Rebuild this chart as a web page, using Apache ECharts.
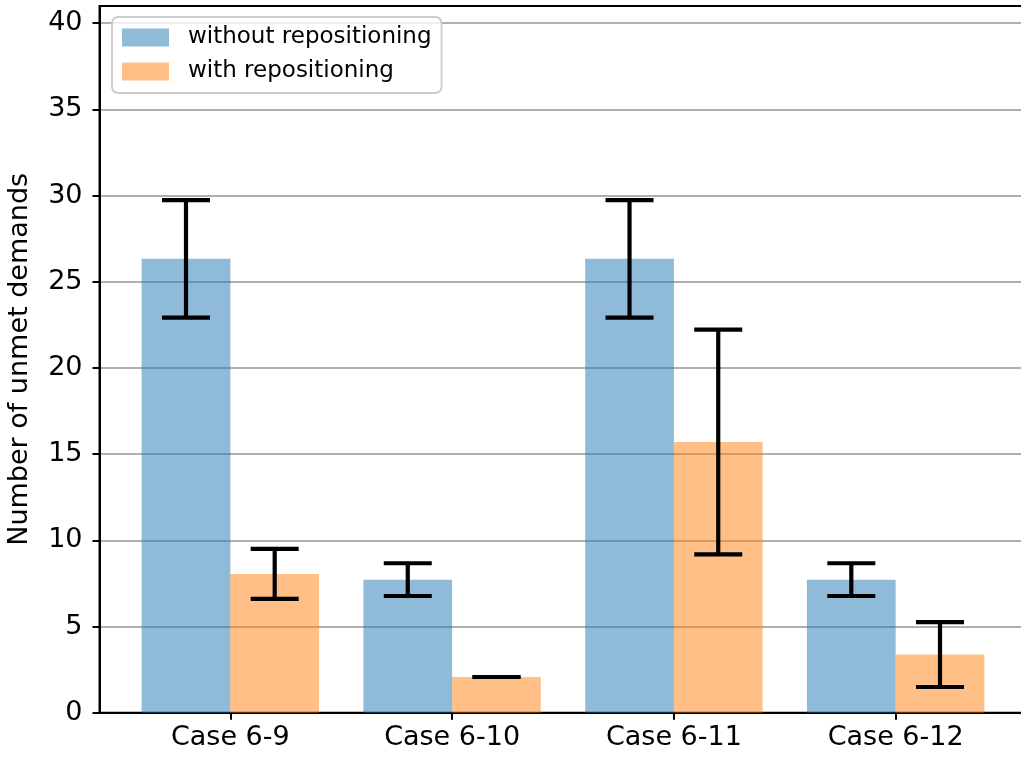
<!DOCTYPE html>
<html>
<head>
<meta charset="utf-8">
<script src="https://cdn.jsdelivr.net/npm/echarts@6/dist/echarts.min.js"></script>
<style>
  html, body { margin: 0; padding: 0; background: #ffffff; overflow: hidden; }
  /* the plot frame runs past the right edge of the window */
  #chart { width: 1040px; height: 757px; }
</style>
</head>
<body>
<div id="chart"></div>
<script>
// Unmet demands per case, mean and error (half-width of the error bar)
const categories = ['Case 6-9', 'Case 6-10', 'Case 6-11', 'Case 6-12'];
const seriesNames = ['without repositioning', 'with repositioning'];
const withoutMean = [26.33, 7.72, 26.33, 7.72];
const withoutErr = [3.41, 0.95, 3.41, 0.95];
const withMean = [8.05, 2.07, 15.70, 3.37];
const withErr = [1.45, 0.0, 6.52, 1.88];
const yTicks = [0, 5, 10, 15, 20, 25, 30, 35, 40];

const FONT = 'DejaVu Sans';
const BAR_W = 0.4;           // bar width in category units
const blue = 'rgba(31,119,180,0.5)';
const orange = 'rgba(255,127,14,0.5)';

function barSeries(name, means, offset, color) {
  return {
    name: name,
    type: 'custom',
    z: 2,
    itemStyle: { color: color },
    data: means.map((m, i) => [i, m]),
    encode: { x: 0, y: 1 },
    renderItem: function (params, api) {
      const i = api.value(0);
      const v = api.value(1);
      const p0 = api.coord([i + offset - BAR_W / 2, v]);
      const p1 = api.coord([i + offset + BAR_W / 2, 0]);
      return {
        type: 'rect',
        shape: { x: p0[0], y: p0[1], width: p1[0] - p0[0], height: p1[1] - p0[1] },
        style: { fill: color }
      };
    }
  };
}

function errSeries(means, errs, offset) {
  return {
    type: 'custom',
    z: 5,
    silent: true,
    data: means.map((m, i) => [i, m - errs[i], m + errs[i]]),
    encode: { x: 0, y: [1, 2] },
    renderItem: function (params, api) {
      const x = api.value(0) + offset;
      const lo = api.coord([x, api.value(1)]);
      const hi = api.coord([x, api.value(2)]);
      const cap = 24;
      const st = { stroke: '#000', lineWidth: 4.2 };
      return {
        type: 'group',
        children: [
          { type: 'line', shape: { x1: lo[0], y1: lo[1], x2: hi[0], y2: hi[1] }, style: st },
          { type: 'line', shape: { x1: lo[0] - cap, y1: lo[1], x2: lo[0] + cap, y2: lo[1] }, style: st },
          { type: 'line', shape: { x1: hi[0] - cap, y1: hi[1], x2: hi[0] + cap, y2: hi[1] }, style: st }
        ]
      };
    }
  };
}

const chart = echarts.init(document.getElementById('chart'), null, { renderer: 'canvas' });
chart.setOption({
  animation: false,
  backgroundColor: '#ffffff',
  textStyle: { fontFamily: FONT },
  grid: {
    left: 99.5, top: 6, width: 927, height: 706.7,
    outerBoundsMode: 'none',
    containLabel: false,
    show: true, borderColor: '#000', borderWidth: 2, backgroundColor: 'transparent'
  },
  legend: {
    orient: 'vertical',
    left: 112, top: 17,
    data: seriesNames,
    icon: 'rect',
    itemWidth: 47, itemHeight: 18, itemGap: 11,
    padding: [9, 10, 10, 10],
    backgroundColor: 'rgba(255,255,255,0.8)',
    borderColor: '#cccccc', borderWidth: 1.8, borderRadius: 6,
    textStyle: { fontFamily: FONT, fontSize: 23, color: '#000', padding: [0, 0, 0, 14] }
  },
  xAxis: {
    type: 'value',
    min: -0.59, max: 3.59,
    axisLine: { show: true, onZero: false, lineStyle: { color: '#000', width: 2 } },
    axisTick: { show: true, length: 7, lineStyle: { color: '#000', width: 2 }, customValues: [0, 1, 2, 3] },
    axisLabel: {
      customValues: [0, 1, 2, 3],
      formatter: v => categories[Math.round(v)],
      fontFamily: FONT, fontSize: 27, color: '#000', margin: 12
    },
    splitLine: { show: false }
  },
  yAxis: {
    type: 'value',
    min: 0, max: 41, interval: 5,
    name: 'Number of unmet demands',
    nameLocation: 'middle',
    nameGap: 66,
    nameTextStyle: { fontFamily: FONT, fontSize: 27, color: '#000' },
    axisLine: { show: true, onZero: false, lineStyle: { color: '#000', width: 2 } },
    axisTick: { show: true, length: 7, lineStyle: { color: '#000', width: 2 }, customValues: yTicks },
    axisLabel: {
      customValues: yTicks,
      fontFamily: FONT, fontSize: 27, color: '#000', margin: 17
    },
    splitLine: { show: true, lineStyle: { color: '#b0b0b0', width: 1.8 } }
  },
  series: [
    barSeries(seriesNames[0], withoutMean, -0.2, blue),
    barSeries(seriesNames[1], withMean, 0.2, orange),
    errSeries(withoutMean, withoutErr, -0.2),
    errSeries(withMean, withErr, 0.2)
  ]
});
</script>
</body>
</html>
